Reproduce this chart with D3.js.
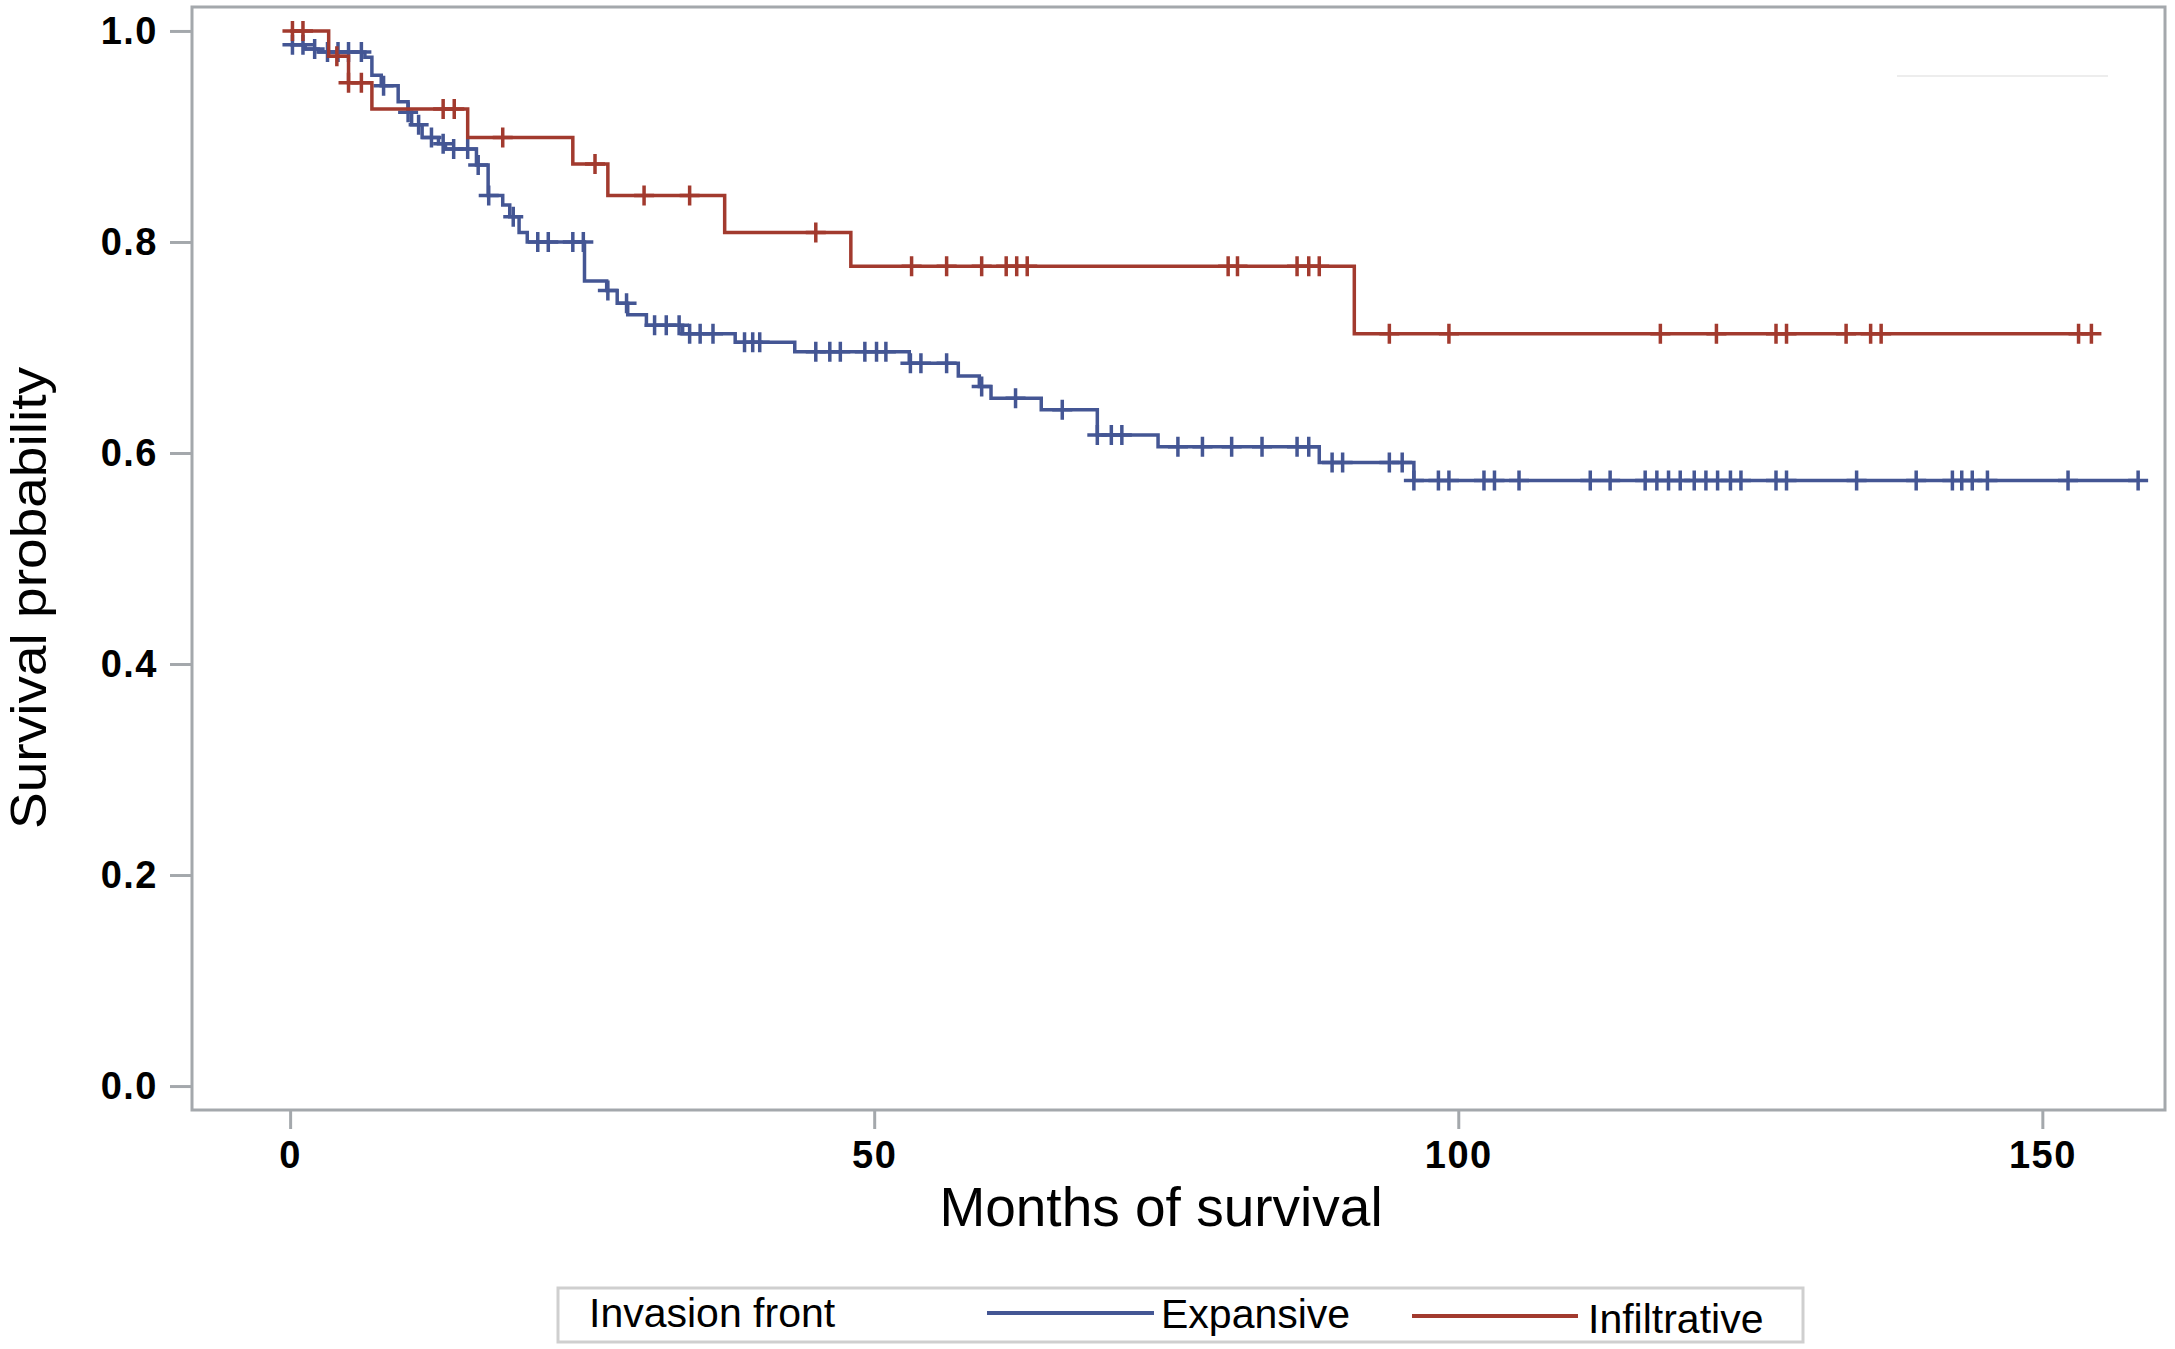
<!DOCTYPE html>
<html lang="en">
<head>
    <meta charset="UTF-8">
    <title>Survival by invasion front</title>
    <style>
        body {
            margin: 0;
            padding: 0;
            background-color: #ffffff;
        }
        svg text {
            font-family: 'Liberation Sans', Arial, sans-serif;
            fill: #000;
        }
        .axis path.domain {
            display: none;
        }
        .axis line {
            stroke: #a4a8ac;
            stroke-width: 3px;
        }
        .axis text {
            font-size: 38px;
            font-weight: bold;
            letter-spacing: 1.5px;
        }
    </style>
</head>
<body>
    <svg width="2175" height="1349"></svg>

    <script src="https://d3js.org/d3.v7.min.js"></script>
    <script>
        // Kaplan-Meier steps: [month, survival after the step]
        const expansiveSteps = [
            [0, 0.987], [1.3, 0.983], [2.4, 0.980], [6.4, 0.975], [7.0, 0.958],
            [7.8, 0.948], [9.25, 0.933], [10.1, 0.923], [10.4, 0.911], [11.3, 0.899],
            [12.7, 0.893], [13.3, 0.888], [15.95, 0.873], [16.95, 0.844], [18.2, 0.835],
            [18.8, 0.824], [19.6, 0.809], [20.3, 0.800], [25.2, 0.763], [27.1, 0.754],
            [28.0, 0.742], [28.9, 0.731], [30.5, 0.721], [33.6, 0.713], [38.1, 0.705],
            [43.2, 0.696], [53.0, 0.685], [57.2, 0.673], [59.0, 0.663], [60.0, 0.652],
            [64.3, 0.641], [69.1, 0.617], [74.3, 0.606], [88.1, 0.591], [96.2, 0.574]
        ];
        const infiltrativeSteps = [
            [0, 1.0], [3.3, 0.976], [5.0, 0.951], [7.0, 0.926], [15.2, 0.899],
            [24.2, 0.874], [27.2, 0.844], [37.2, 0.809], [48.0, 0.777], [91.1, 0.713]
        ];

        // censored observations (months)
        const expansiveCensored = [
            0.2, 1.1, 2.1, 3.2, 4.1, 5.0, 6.1, 8.0, 10.1, 11.0, 12.1, 13.1, 14.0, 15.2,
            16.1, 17.0, 19.1, 21.2, 22.1, 24.2, 25.1, 27.2, 28.8, 31.2, 32.2, 33.3, 34.2,
            35.1, 36.2, 38.9, 39.6, 40.2, 45.0, 46.2, 47.1, 49.2, 50.2, 51.0, 53.1, 54.0,
            56.2, 59.2, 62.1, 66.1, 69.1, 70.3, 71.2, 76.0, 78.1, 80.6, 83.2, 86.2, 87.2,
            89.2, 90.1, 94.1, 95.2, 96.2, 98.3, 99.2, 102.2, 103.1, 105.2, 111.3, 113.0,
            116.0, 117.0, 118.0, 119.0, 120.2, 121.2, 122.2, 123.3, 124.2, 127.2, 128.1,
            134.1, 139.2, 142.3, 143.1, 144.0, 145.3, 152.2, 158.2
        ];
        const infiltrativeCensored = [
            0.2, 1.1, 4.0, 5.0, 6.1, 13.1, 14.05, 18.2, 26.1, 30.3, 34.2, 45.0, 53.2,
            56.2, 59.2, 61.3, 62.2, 63.1, 80.3, 81.1, 86.2, 87.2, 88.1, 94.1, 99.2,
            117.3, 122.1, 127.2, 128.1, 133.2, 135.3, 136.2, 153.1, 154.2
        ];

        const xTicks = [0, 50, 100, 150];
        const yTicks = [0, 0.2, 0.4, 0.6, 0.8, 1.0];

        const series = [
            { name: "Expansive", steps: expansiveSteps, censored: expansiveCensored, color: "#445694" },
            { name: "Infiltrative", steps: infiltrativeSteps, censored: infiltrativeCensored, color: "#A23A2E" }
        ];

        const svg = d3.select("svg");

        // frame of the plot area
        const frame = { left: 192, top: 7, right: 2165, bottom: 1110 };

        const x = d3.scaleLinear().domain([-8.4, 160.5]).range([frame.left, frame.right]);
        const y = d3.scaleLinear().domain([-0.0227, 1.0227]).range([frame.bottom, frame.top]);

        // axes
        svg.append("g")
            .attr("class", "axis")
            .attr("transform", `translate(${frame.left},0)`)
            .call(d3.axisLeft(y).tickValues(yTicks).tickFormat(d3.format(".1f")).tickSize(22).tickPadding(12));

        svg.append("g")
            .attr("class", "axis")
            .attr("transform", `translate(0,${frame.bottom})`)
            .call(d3.axisBottom(x).tickValues(xTicks).tickFormat(d3.format("d")).tickSize(19).tickPadding(12));

        svg.append("rect")
            .attr("x", frame.left)
            .attr("y", frame.top)
            .attr("width", frame.right - frame.left)
            .attr("height", frame.bottom - frame.top)
            .attr("fill", "none")
            .attr("stroke", "#a4a8ac")
            .attr("stroke-width", 3);

        // faint stray line in the upper right corner
        svg.append("line")
            .attr("x1", 1897).attr("x2", 2108)
            .attr("y1", 76).attr("y2", 76)
            .attr("stroke", "#ededed")
            .attr("stroke-width", 2);

        // axis titles
        svg.append("text")
            .attr("x", 1161)
            .attr("y", 1226)
            .attr("text-anchor", "middle")
            .attr("font-size", "55px")
            .text("Months of survival");

        svg.append("text")
            .attr("transform", "translate(46,598) rotate(-90)")
            .attr("text-anchor", "middle")
            .attr("font-size", "50px")
            .attr("textLength", 462)
            .attr("lengthAdjust", "spacingAndGlyphs")
            .text("Survival probability");

        // survival curves
        const line = d3.line()
            .x(d => x(d[0]))
            .y(d => y(d[1]))
            .curve(d3.curveStepAfter);

        const bisect = d3.bisector(d => d[0]).right;
        const survivalAt = (steps, t) => steps[Math.max(0, bisect(steps, t) - 1)][1];

        const curves = svg.append("g").attr("class", "curves");

        series.forEach(s => {
            const lastT = d3.max(s.censored);
            const pts = s.steps.concat([[lastT, s.steps[s.steps.length - 1][1]]]);

            curves.append("path")
                .datum(pts)
                .attr("fill", "none")
                .attr("stroke", s.color)
                .attr("stroke-width", 3.5)
                .attr("d", line);

            // censor marks drawn as plus signs
            curves.append("g")
                .selectAll("path")
                .data(s.censored)
                .enter().append("path")
                .attr("fill", "none")
                .attr("stroke", s.color)
                .attr("stroke-width", 3.5)
                .attr("d", t => {
                    const cx = x(t), cy = y(survivalAt(s.steps, t));
                    return `M${cx},${cy - 10}V${cy + 10}M${cx - 10},${cy}H${cx + 10}`;
                });
        });

        // legend
        const legend = svg.append("g").attr("class", "legend");

        legend.append("rect")
            .attr("x", 558)
            .attr("y", 1288)
            .attr("width", 1245)
            .attr("height", 54)
            .attr("fill", "#fff")
            .attr("stroke", "#cfcfcf")
            .attr("stroke-width", 3);

        legend.append("text")
            .attr("x", 589)
            .attr("y", 1327)
            .attr("font-size", "41px")
            .text("Invasion front");

        const legendPos = [
            { x1: 987, x2: 1154, ly: 1313, tx: 1161, ty: 1328 },
            { x1: 1412, x2: 1578, ly: 1316, tx: 1588, ty: 1333 }
        ];

        series.forEach((s, i) => {
            const p = legendPos[i];
            legend.append("line")
                .attr("x1", p.x1).attr("x2", p.x2)
                .attr("y1", p.ly).attr("y2", p.ly)
                .attr("stroke", s.color)
                .attr("stroke-width", 4);
            legend.append("text")
                .attr("x", p.tx)
                .attr("y", p.ty)
                .attr("font-size", "41px")
                .text(s.name);
        });
    </script>
</body>
</html>
